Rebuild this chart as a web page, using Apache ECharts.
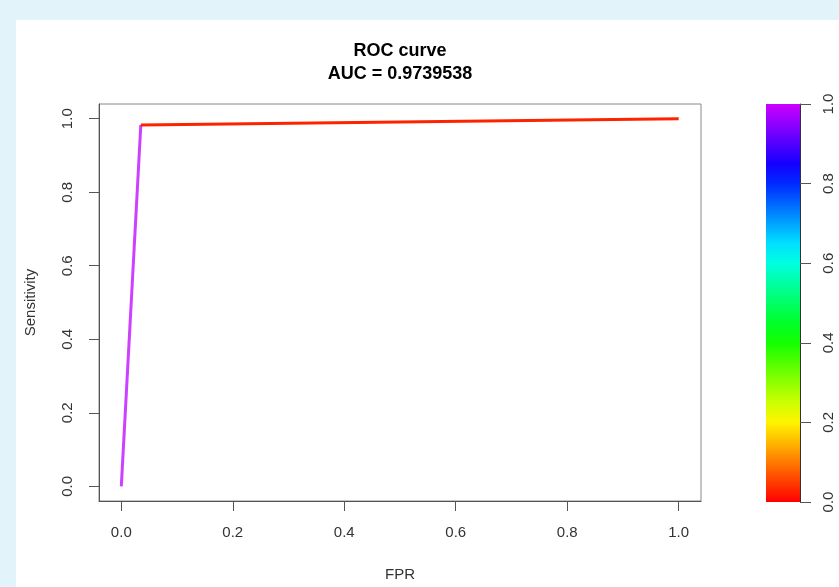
<!DOCTYPE html>
<html>
<head>
<meta charset="utf-8">
<style>
  html, body { margin: 0; padding: 0; background: #e2f4fa; }
  #chart { width: 839px; height: 587px; }
</style>
<script src="https://cdn.jsdelivr.net/npm/echarts@6/dist/echarts.min.js"></script>
</head>
<body>
<div id="chart"></div>
<script>
// ROC points (FPR, sensitivity) and the colour of each segment
const fpr = [0, 0.035, 1]
const tpr = [0, 0.9829, 1]
const segmentColors = ['#cc40ff', '#ff2200']
const tickValues = [0, 0.2, 0.4, 0.6, 0.8, 1.0]
const cutoffMax = [1]
const titleLines = ['ROC curve', 'AUC = 0.9739538']

const FONT = '"Liberation Sans", Arial, sans-serif'

// rainbow(start=0, end=0.8) like the R colour key
const hsvToHex = (h) => {
  const f = (n) => {
    const k = (n + h / 60) % 6
    const v = 1 - Math.max(Math.min(k, 4 - k, 1), 0)
    return Math.round(v * 255).toString(16).padStart(2, '0')
  }
  return '#' + f(5) + f(3) + f(1)
}
const stops = []
for (let i = 0; i <= 20; i++) {
  stops.push({ offset: i / 20, color: hsvToHex(288 * i / 20) })
}

const chart = echarts.init(document.getElementById('chart'))

const segSeries = []
for (let i = 0; i < fpr.length - 1; i++) {
  segSeries.push({
    type: 'line',
    xAxisIndex: 0,
    yAxisIndex: 0,
    data: [[fpr[i], tpr[i]], [fpr[i + 1], tpr[i + 1]]],
    symbol: 'none',
    lineStyle: { color: segmentColors[i], width: 3 },
    silent: true
  })
}

const axisLabelCommon = { color: '#333', fontSize: 15, fontFamily: FONT }

const options = {
  animation: false,
  backgroundColor: '#e2f4fa',
  graphic: [
    { type: 'rect', z: -10, shape: { x: 16, y: 20, width: 823, height: 567 }, style: { fill: '#fff' } },
    { type: 'text', x: 400, y: 51, style: { text: titleLines[0], align: 'center', verticalAlign: 'middle', font: 'bold 18px ' + FONT, fill: '#000' } },
    { type: 'text', x: 400, y: 74, style: { text: titleLines[1], align: 'center', verticalAlign: 'middle', font: 'bold 18px ' + FONT, fill: '#000' } }
  ],
  grid: [
    { left: 99, top: 104, width: 602, height: 398, show: true, borderColor: '#888', borderWidth: 1, backgroundColor: 'transparent' },
    { left: 766, top: 104, width: 34, height: 398 }
  ],
  xAxis: [
    {
      gridIndex: 0,
      type: 'value',
      min: -0.04,
      max: 1.04,
      name: 'FPR',
      nameLocation: 'middle',
      nameGap: 66,
      nameTextStyle: { color: '#333', fontSize: 15, fontFamily: FONT },
      axisLine: { show: true, onZero: false, lineStyle: { color: '#555' } },
      axisTick: { show: true, length: 10, customValues: tickValues, lineStyle: { color: '#555' } },
      axisLabel: Object.assign({ margin: 24, customValues: tickValues, formatter: (v) => v.toFixed(1) }, axisLabelCommon),
      splitLine: { show: false }
    },
    {
      gridIndex: 1,
      type: 'category',
      data: ['cutoff'],
      show: false
    }
  ],
  yAxis: [
    {
      gridIndex: 0,
      type: 'value',
      min: -0.04,
      max: 1.04,
      name: 'Sensitivity',
      nameLocation: 'middle',
      nameGap: 61,
      nameTextStyle: { color: '#333', fontSize: 15, fontFamily: FONT },
      axisLine: { show: true, onZero: false, lineStyle: { color: '#555' } },
      axisTick: { show: true, length: 10, customValues: tickValues, lineStyle: { color: '#555' } },
      axisLabel: Object.assign({ margin: 24, rotate: 90, customValues: tickValues, formatter: (v) => v.toFixed(1) }, axisLabelCommon),
      splitLine: { show: false }
    },
    {
      gridIndex: 1,
      type: 'value',
      position: 'right',
      min: 0,
      max: 1,
      interval: 0.2,
      axisLine: { show: true, onZero: false, lineStyle: { color: '#333' } },
      axisTick: { show: true, length: 11, lineStyle: { color: '#555' } },
      axisLabel: Object.assign({ margin: 21, rotate: 90, formatter: (v) => v.toFixed(1) }, axisLabelCommon),
      splitLine: { show: false }
    }
  ],
  series: segSeries.concat([{
    type: 'bar',
    xAxisIndex: 1,
    yAxisIndex: 1,
    data: cutoffMax,
    barWidth: '100%',
    silent: true,
    itemStyle: {
      color: { type: 'linear', x: 0, y: 1, x2: 0, y2: 0, colorStops: stops }
    }
  }])
}

chart.setOption(options)

window.addEventListener('resize', () => {
  chart?.resize()
})
</script>
</body>
</html>
